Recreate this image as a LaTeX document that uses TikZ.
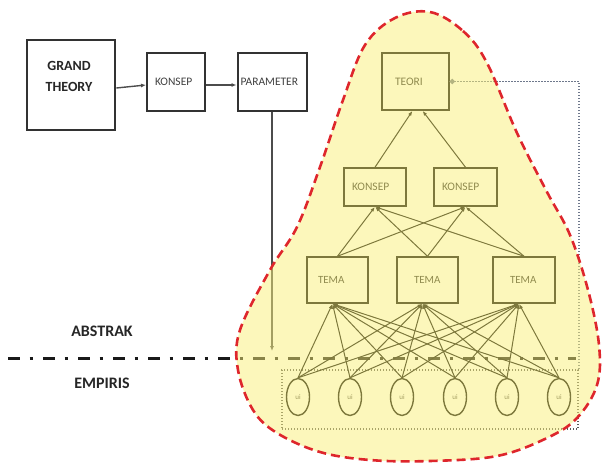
\documentclass[tikz,border=0pt]{standalone}
\usepackage{fontspec}
\setmainfont{Carlito}
\usetikzlibrary{arrows.meta,shapes.geometric}
\definecolor{cloudfill}{RGB}{250,240,120}
\definecolor{cloudline}{RGB}{222,38,44}
\definecolor{linkgray}{RGB}{110,120,140}
\definecolor{boxgray}{RGB}{50,50,50}
\begin{document}
\begin{tikzpicture}[x=1pt,y=-1pt,
  gtbox/.style={draw=boxgray, line width=2.6pt, minimum width=88pt, minimum height=90pt, inner sep=0pt},
  gtlbl/.style={font=\bfseries\fontsize{14}{21}\selectfont, align=center, text=black!85},
  obox/.style={draw=boxgray, line width=2pt, minimum height=58pt, inner ysep=0pt, align=left,
    font=\fontsize{11.5}{13}\selectfont, text=black!75},
  ibox/.style={draw=black, line width=1.5pt, inner ysep=0pt, align=left,
    font=\fontsize{11.5}{13}\selectfont, text=black!85},
  uinode/.style={draw=black, ellipse, line width=1.4pt, minimum width=23pt, minimum height=37pt,
    inner sep=0pt, font=\fontsize{7}{8}\selectfont, text=black!70},
  dotbox/.style={draw=black!65, line width=1.6pt, dash pattern=on 1.4pt off 1.6pt,
    minimum width=296pt, minimum height=59pt, inner sep=0pt},
  dotlink/.style={draw=linkgray, line width=1.7pt, dash pattern=on 1.4pt off 1.6pt,
    -{Circle[length=5pt]}},
  larrow/.style={draw=black!70, line width=1.4pt, -{Latex[length=5pt,width=4pt]}},
  edge/.style={draw=black, line width=1pt, -{Latex[length=5pt,width=3.5pt]}},
  divider/.style={draw=black!90, line width=3pt, dash pattern=on 11.7pt off 10pt on 3.3pt off 10pt},
  sidelbl/.style={font=\bfseries\fontsize{16}{18}\selectfont, text=black!85}
]
\useasboundingbox (0,0) rectangle (604,463);

% abstract / empirical divider
\coordinate (dl) at (8,358);
\coordinate (dr) at (576,358);
\draw[divider] (dl) -- (dr);
\node[sidelbl] (abs) at (102,331) {ABSTRAK};
\node[sidelbl] (emp) at (102,383) {EMPIRIS};

% deductive chain on the left
\node[gtbox] (gt) at (71,85) {};
\node[gtlbl] (gtlabel) at (69,76) {GRAND\\THEORY};
\node[obox, inner xsep=8pt, text width=42pt] (kl) at (176,82) {KONSEP};
\node[obox, inner xsep=3pt, text width=63pt] (par) at (272,82) {PARAMETER};
\coordinate (pend) at (272,351);
\draw[larrow] ([yshift=-3pt]gt.east) -- ([yshift=-3pt]kl.west);
\draw[larrow] ([yshift=-3pt]kl.east) -- ([yshift=-3pt]par.west);
\draw[larrow] (par.south) -- (pend);

% inductive hierarchy
\node[ibox, minimum height=57pt, inner xsep=13pt, text width=41pt] (teori) at (415.5,81.5) {TEORI};
\node[ibox, minimum height=38pt, inner xsep=8pt, text width=46pt] (k1) at (375,187) {KONSEP};
\node[ibox, minimum height=38pt, inner xsep=8pt, text width=47pt] (k2) at (465.5,187) {KONSEP};
\node[ibox, minimum height=46pt, inner xsep=11pt, text width=39pt, font=\fontsize{11}{12}\selectfont] (t1) at (337.5,280) {TEMA};
\node[ibox, minimum height=46pt, inner xsep=17pt, text width=27pt, font=\fontsize{11}{12}\selectfont] (t2) at (427.5,280) {TEMA};
\node[ibox, minimum height=46pt, inner xsep=17pt, text width=28pt, font=\fontsize{11}{12}\selectfont] (t3) at (524,280) {TEMA};

\node[dotbox] (uibox) at (430,399.5) {};
\foreach \i/\x in {1/298,2/350,3/402,4/455,5/507,6/559}
  \node[uinode] (u\i) at (\x,397) {ui};

\foreach \i in {1,...,6}
  \foreach \t in {t1,t2,t3}
    \draw[edge] (u\i.north) -- ([xshift=-5pt]\t.south);
\foreach \t in {t1,t2,t3}
  \foreach \k in {k1,k2}
    \draw[edge] (\t.north) -- (\k.south);
\draw[edge] (k1.north) -- ([xshift=-3pt]teori.south);
\draw[edge] (k2.north) -- ([xshift=7pt]teori.south);

\draw[dotlink] (uibox.north east) |- (teori.east);

% translucent region with dashed red outline
\draw[cloudline, line width=2.6pt, dash pattern=on 9pt off 5pt,
      fill=cloudfill, fill opacity=0.5]
  plot[smooth cycle, tension=0.6] coordinates {
    (430,12) (463,31) (487,63) (517,133) (547,192) (570,235) (588,290)
    (599,345) (597,385) (577,418) (547,438) (497,456) (430,461) (370,460)
    (320,452) (277,433) (253,410) (238,370) (240,330) (270,270) (297,227)
    (320,167) (343,100) (365,45) (395,18)};
\end{tikzpicture}
\end{document}
